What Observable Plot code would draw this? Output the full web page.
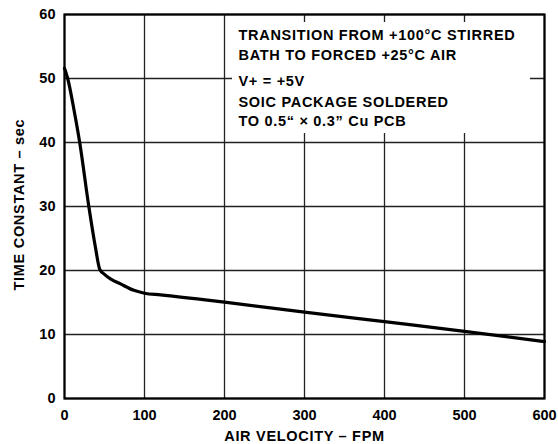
<!DOCTYPE html>
<html>
<head>
<meta charset="utf-8">
<script src="https://cdn.jsdelivr.net/npm/d3@7"></script>
<script src="https://cdn.jsdelivr.net/npm/@observablehq/plot@0.6"></script>
<style>
  html, body { margin: 0; padding: 0; background: #fff; }
  #chart { width: 558px; height: 444px; }
</style>
</head>
<body>
<div id="chart"></div>
<script>
// Air velocity (FPM) and time constant (sec)
const airVelocity = [0, 4, 12, 19, 30.4, 38.7, 44, 50, 57.5, 70, 86.7, 100, 120, 200, 300, 400, 500, 600];
const timeConstant = [51.6, 50, 45, 40, 30, 23.6, 20.2, 19.4, 18.7, 17.9, 16.9, 16.45, 16.2, 15.05, 13.5, 12.0, 10.5, 8.9];

const xTicks = [0, 100, 200, 300, 400, 500, 600];
const yTicks = [0, 10, 20, 30, 40, 50, 60];

const noteLines = [
  "TRANSITION FROM +100°C STIRRED",
  "BATH TO FORCED +25°C AIR",
  "V+ = +5V",
  "SOIC PACKAGE SOLDERED",
  "TO 0.5“ × 0.3” Cu PCB"
];
const noteY = [55.95, 52.85, 48.8, 45.5, 42.55];

const xLabel = "AIR VELOCITY – FPM";
const yLabel = "TIME CONSTANT – sec";

const curve = airVelocity.map((v, i) => ({x: v, y: timeConstant[i]}));
const notes = noteLines.map((t, i) => ({t, y: noteY[i]}));

const font = "'Liberation Sans', Arial, Helvetica, sans-serif";

const chart = Plot.plot({
  width: 558,
  height: 444,
  marginLeft: 64,
  marginRight: 14,
  marginTop: 14,
  marginBottom: 46,
  style: {fontFamily: font, fontWeight: "bold", background: "#fff"},
  x: {domain: [0, 600]},
  y: {domain: [0, 60]},
  marks: [
    Plot.gridX(xTicks, {stroke: "#222", strokeOpacity: 1, strokeWidth: 1.3}),
    Plot.gridY(yTicks, {stroke: "#222", strokeOpacity: 1, strokeWidth: 1.3}),
    Plot.rect([{x1: 210, x2: 582.5, y1: 41.4, y2: 58.75}], {x1: "x1", x2: "x2", y1: "y1", y2: "y2", fill: "#fff"}),
    Plot.frame({stroke: "#000", strokeWidth: 2.2}),
    Plot.axisX(xTicks, {tickSize: 0, tickPadding: 11, fontSize: 14.5, fontWeight: "bold", fill: "#000", label: null}),
    Plot.axisY(yTicks, {tickSize: 0, tickPadding: 9, fontSize: 14.5, fontWeight: "bold", fill: "#000", label: null}),
    Plot.line(curve, {x: "x", y: "y", curve: "monotone-x", stroke: "#000", strokeWidth: 3.2}),
    Plot.text(notes, {x: 217.5, y: "y", text: "t", textAnchor: "start", lineAnchor: "bottom", fontSize: 14.5, fontWeight: "bold", fill: "#000"}),
    Plot.text([xLabel], {x: 300, y: -6.7, lineAnchor: "bottom", clip: false, fontSize: 14.5, fontWeight: "bold", fill: "#000"}),
    Plot.text([yLabel], {x: -56, y: 30.3, rotate: -90, clip: false, fontSize: 14.5, fontWeight: "bold", fill: "#000"})
  ]
});
// widen the letter spacing of the annotation and axis titles, as in the reference
const spaced = new Set([...noteLines, xLabel, yLabel]);
d3.select(chart).selectAll("text").each(function () {
  if (spaced.has(this.textContent)) this.style.letterSpacing = "0.7px";
});
document.getElementById("chart").appendChild(chart);
</script>
</body>
</html>
